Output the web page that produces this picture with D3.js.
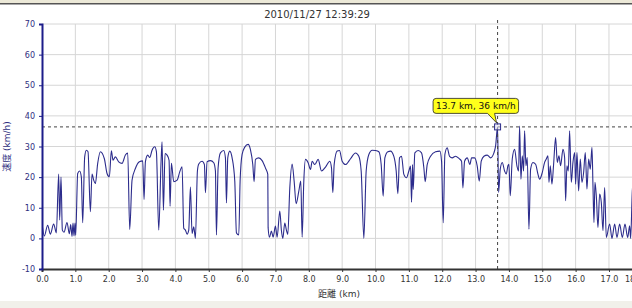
<!DOCTYPE html>
<html>
<head>
<meta charset="utf-8">
<script src="https://cdn.jsdelivr.net/npm/d3@7"></script>
<style>
  html, body { margin: 0; padding: 0; background: #fff; overflow: hidden; }
  svg { display: block; font-family: "DejaVu Sans", "Noto Sans CJK JP", sans-serif; }
</style>
</head>
<body>
<div id="speed-chart"></div>
<script>
const title = '2010/11/27 12:39:29';
const xTitle = '距離 (km)';
const yTitle = '速度 (km/h)';
const xTicks = [0, 1, 2, 3, 4, 5, 6, 7, 8, 9, 10, 11, 12, 13, 14, 15, 16, 17, 18];
const yTicks = [-10, 0, 10, 20, 30, 40, 50, 60, 70];

// distance (km) / speed (km/h)
const distance = [
  0, 0.07, 0.17, 0.25, 0.35, 0.43, 0.50, 0.53, 0.57, 0.61, 0.66, 0.75, 0.82, 0.86, 0.90, 0.93, 0.96, 0.99, 1.01,
  1.07, 1.13, 1.18, 1.22, 1.28, 1.33, 1.38, 1.45, 1.50, 1.55, 1.60, 1.67, 1.75, 1.87, 1.95,
  2.02, 2.08, 2.13, 2.20, 2.30, 2.40, 2.50, 2.57, 2.63, 2.70, 2.80, 2.92,
  3.02, 3.06, 3.10, 3.17, 3.23, 3.30, 3.38, 3.43, 3.50, 3.57, 3.60, 3.64, 3.69, 3.75, 3.81, 3.84, 3.88, 3.95,
  4.05, 4.13, 4.20, 4.25, 4.30, 4.35, 4.40, 4.45, 4.50, 4.55, 4.60, 4.66, 4.70, 4.80, 4.87, 4.90, 4.95,
  5.05, 5.15, 5.20, 5.23, 5.28, 5.35, 5.45, 5.50, 5.53, 5.57, 5.63, 5.70, 5.78, 5.83, 5.90, 5.94,
  6.00, 6.08, 6.18, 6.25, 6.32, 6.36, 6.40, 6.50, 6.60, 6.70, 6.77, 6.78, 6.82, 6.88, 6.93,
  7.00, 7.05, 7.13, 7.18, 7.22, 7.28, 7.33, 7.37, 7.43, 7.50, 7.56, 7.62, 7.70, 7.76, 7.80, 7.85, 7.90, 7.98,
  8.05, 8.10, 8.18, 8.28, 8.38, 8.50, 8.63, 8.68, 8.72, 8.76, 8.85, 8.92,
  9.00, 9.10, 9.25, 9.40, 9.50, 9.57, 9.65, 9.72, 9.80, 9.90,
  10.00, 10.10, 10.17, 10.23, 10.28, 10.37, 10.45, 10.55, 10.62, 10.67, 10.72, 10.78, 10.85, 10.93,
  11.00, 11.05, 11.08, 11.11, 11.13, 11.18, 11.28, 11.38, 11.45, 11.49, 11.55, 11.65, 11.80, 11.93, 11.98,
  12.03, 12.08, 12.15, 12.22, 12.30, 12.40, 12.50, 12.58, 12.62, 12.67, 12.75, 12.83, 12.88, 12.97,
  13.05, 13.11, 13.17, 13.25, 13.35, 13.45, 13.55, 13.60, 13.66, 13.69, 13.74, 13.80, 13.87, 13.92, 13.97,
  14.00, 14.04, 14.10, 14.17, 14.24, 14.29, 14.32, 14.36, 14.40, 14.44, 14.47, 14.51, 14.55, 14.60, 14.65,
  14.72, 14.80, 14.87, 14.92, 15.00, 15.07, 15.12, 15.17, 15.20, 15.24, 15.29, 15.34, 15.40, 15.45, 15.50,
  15.55, 15.62, 15.67, 15.70, 15.74, 15.78, 15.82, 15.87, 15.92, 15.97, 16.00, 16.04, 16.09, 16.14, 16.19,
  16.24, 16.29, 16.34, 16.39, 16.44, 16.49, 16.52, 16.55, 16.58, 16.62, 16.67, 16.72, 16.77, 16.82, 16.87,
  16.92, 17.02, 17.09, 17.17, 17.24, 17.32, 17.40, 17.48, 17.56, 17.62, 17.65, 17.70, 17.76
];
const speed = [
  5, 0.8, 4.3, 1.4, 4.7, 1.8, 21, 6, 20, 2.7, 2, 5.2, 1.5, 4.5, 0.6, 5, 0.8, 5, 1,
  21.2, 22, 20, 5.1, 26.6, 28.8, 28.3, 8.7, 21, 19, 17.9, 24.5, 28.3, 26, 21.2,
  20.1, 28.6, 25.5, 26.6, 25, 24.5, 27.2, 27.9, 2.9, 19, 22.8, 25,
  25.3, 12.7, 25, 27.2, 26.4, 28.8, 29.9, 28.3, 2.7, 25, 31.5, 9.2, 27.7, 27.2, 25.5, 10.5, 24.5, 18.5,
  19, 21.7, 23.4, 3.3, 2.7, 1.4, 2.7, 16.8, 1.6, 3.8, 0, 22, 24.3, 25.2, 24.1, 14.9, 25,
  25.4, 24.7, 22, 1.1, 23, 27.9, 28.7, 26.3, 11.6, 26.3, 28.5, 26.3, 18.7, 1.8, 1.1, 18.7,
  27.4, 29.8, 30.7, 29, 24.1, 18.5, 25.8, 26.3, 25.4, 23, 20.9, 3.5, 0.4, 2.4, 0.4,
  4, 0.4, 8.9, 2.4, 0, 5, 2.6, 1.3, 16.5, 24.3, 18.7, 11.3, 15.4, 18.7, 0.4, 18.7, 25.8, 24.7,
  22.5, 25.2, 24.1, 25.8, 22, 23.3, 25.2, 23, 14.9, 24.1, 28.5, 28.7,
  25.2, 24.1, 26, 27.9, 26.8, 22, 0, 22, 27.4, 28.8,
  28.7, 28.3, 24.1, 13.8, 26.3, 28.3, 28.5, 26.8, 22, 14.6, 26.3, 26.8, 20.9, 19.8,
  22, 23.6, 11.8, 24.1, 16, 27.9, 28.7, 27.9, 23, 18.5, 24.1, 26.8, 28.3, 28.5, 25.2,
  5.1, 27.4, 29.6, 26.8, 26.3, 26.8, 26.1, 25.2, 16.5, 25.2, 26.3, 24.1, 26.3, 26.3,
  23.6, 18.7, 25.2, 26.8, 27.2, 26.3, 27.9, 30.1, 36.4, 15, 22.6, 24.8, 22, 21, 23.7,
  24.2, 13.9, 25.9, 29.1, 23.7, 22, 36.7, 19.3, 27, 22, 35.1, 23.7, 26.4, 3, 22.6,
  24.8, 24.2, 21, 19.3, 21.5, 24.8, 25.9, 27, 18.3, 23.7, 17.7, 24.2, 32.9, 24.8, 27,
  23.7, 29.1, 26.4, 12.3, 23.7, 22, 35.1, 18.3, 24.8, 28, 17.7, 28, 15.5, 25.9, 18.3,
  21.5, 28, 16.1, 25.9, 22.6, 29.7, 17.2, 5.2, 18.3, 13.9, 3.6, 14.5, 11.7, 2.5, 16.6,
  0.3, 4.7, 0, 4.7, 0.3, 4.7, 0.3, 4.7, 0.3, 4.1, 0, 15.5, 21
];

// hovered point shown by the crosshair
const hoverDistance = 13.66;
const hoverSpeed = 36.4;

const width = 632;
const height = 308;
const margin = {top: 24, left: 42, bottom: 39};
const plotW = 610;
const plotH = height - margin.top - margin.bottom;

const data = distance.map((d, i) => ({km: d, v: speed[i]}));

const x = d3.scaleLinear().domain([0, 18.29]).range([0, plotW]);
const y = d3.scaleLinear().domain([-10, 70]).range([plotH, 0]);

const svg = d3.select('#speed-chart')
  .append('svg')
    .attr('width', width)
    .attr('height', height);

// window frame bits
svg.append('rect').attr('x', 0).attr('y', 0).attr('width', width).attr('height', 3.5).attr('fill', '#ece9d8');
svg.append('rect').attr('x', 0).attr('y', 3).attr('width', width).attr('height', 1.5).attr('fill', '#555');
svg.append('rect').attr('x', 0).attr('y', 301).attr('width', width).attr('height', 7).attr('fill', '#f1f0ea');

svg.append('text')
  .attr('x', 317)
  .attr('y', 17.5)
  .attr('text-anchor', 'middle')
  .attr('font-size', 10)
  .attr('fill', '#333')
  .text(title);

const g = svg.append('g')
  .attr('transform', 'translate(' + margin.left + ',' + margin.top + ')');

// grid
g.append('g').selectAll('line')
  .data(yTicks.filter(d => d > -10))
  .join('line')
    .attr('x1', 0).attr('x2', plotW)
    .attr('y1', d => y(d)).attr('y2', d => y(d))
    .attr('stroke', '#d6d6d6');
g.append('g').selectAll('line')
  .data(xTicks.filter(d => d > 0))
  .join('line')
    .attr('x1', d => x(d)).attr('x2', d => x(d))
    .attr('y1', 0).attr('y2', plotH)
    .attr('stroke', '#d6d6d6');

g.append('clipPath').attr('id', 'plot-clip')
  .append('rect').attr('width', plotW).attr('height', plotH);

const line = d3.line()
  .x(d => x(d.km))
  .y(d => y(d.v))
  .curve(d3.curveMonotoneX);

g.append('path')
  .datum(data)
  .attr('clip-path', 'url(#plot-clip)')
  .attr('fill', 'none')
  .attr('stroke', '#2c2c8c')
  .attr('stroke-width', 1.1)
  .attr('d', line);

// crosshair
g.append('line')
  .attr('x1', 0).attr('x2', plotW)
  .attr('y1', y(hoverSpeed)).attr('y2', y(hoverSpeed))
  .attr('stroke', '#444').attr('stroke-dasharray', '3,3');
g.append('line')
  .attr('x1', x(hoverDistance)).attr('x2', x(hoverDistance))
  .attr('y1', -4).attr('y2', plotH)
  .attr('stroke', '#444').attr('stroke-dasharray', '3,3');

// axes
const xAxis = g.append('g')
  .attr('transform', 'translate(0,' + plotH + ')')
  .call(d3.axisBottom(x).tickValues(xTicks).tickSize(3).tickPadding(4).tickFormat(d => d.toFixed(1)));
xAxis.select('.domain').attr('stroke', '#333').attr('stroke-width', 2);
xAxis.selectAll('.tick line').attr('stroke', '#333');
xAxis.selectAll('.tick text').attr('fill', '#333').attr('font-size', 8).attr('font-family', 'DejaVu Sans');
xAxis.selectAll('.tick').filter(d => d === 18).select('text').attr('dx', -9);

const yAxis = g.append('g')
  .call(d3.axisLeft(y).tickValues(yTicks).tickSize(3).tickPadding(4).tickFormat(d => String(d)));
yAxis.select('.domain').attr('stroke', '#1c1c8a').attr('stroke-width', 2);
yAxis.selectAll('.tick line').attr('stroke', '#1c1c8a');
yAxis.selectAll('.tick text').attr('fill', '#2e2e80').attr('font-size', 8).attr('font-family', 'DejaVu Sans');

svg.append('text')
  .attr('transform', 'translate(10,' + (margin.top + plotH / 2) + ') rotate(-90)')
  .attr('text-anchor', 'middle')
  .attr('font-size', 9)
  .attr('fill', '#2e2e80')
  .text(yTitle);

svg.append('text')
  .attr('x', 339)
  .attr('y', 297)
  .attr('text-anchor', 'middle')
  .attr('font-size', 9)
  .attr('fill', '#333')
  .text(xTitle);

// hover marker + tooltip
const mx = x(hoverDistance);
const my = y(hoverSpeed);
g.append('rect')
  .attr('x', mx - 3).attr('y', my - 3)
  .attr('width', 6).attr('height', 6)
  .attr('fill', '#dde').attr('fill-opacity', 0.5)
  .attr('stroke', '#2c2c8c');

const tipL = mx - 64.5, tipR = mx + 21, tipB = my - 13.5, tipT = tipB - 15, r = 3;
const tipPath = 'M' + (tipL + r) + ',' + tipT +
  'H' + (tipR - r) + 'Q' + tipR + ',' + tipT + ' ' + tipR + ',' + (tipT + r) +
  'V' + (tipB - r) + 'Q' + tipR + ',' + tipB + ' ' + (tipR - r) + ',' + tipB +
  'H' + (mx - 3) + 'L' + (mx - 1) + ',' + (my - 4) + 'L' + (mx - 10) + ',' + tipB +
  'H' + (tipL + r) + 'Q' + tipL + ',' + tipB + ' ' + tipL + ',' + (tipB - r) +
  'V' + (tipT + r) + 'Q' + tipL + ',' + tipT + ' ' + (tipL + r) + ',' + tipT + 'Z';
g.append('path')
  .attr('d', tipPath)
  .attr('fill', '#ffff1a')
  .attr('stroke', '#222')
  .attr('stroke-width', 0.8);
g.append('text')
  .attr('x', (tipL + tipR) / 2)
  .attr('y', tipB - 4.3)
  .attr('text-anchor', 'middle')
  .attr('font-size', 9)
  .attr('fill', '#111')
  .text(hoverDistance.toFixed(1) + ' km, ' + Math.round(hoverSpeed) + ' km/h');
</script>
</body>
</html>
